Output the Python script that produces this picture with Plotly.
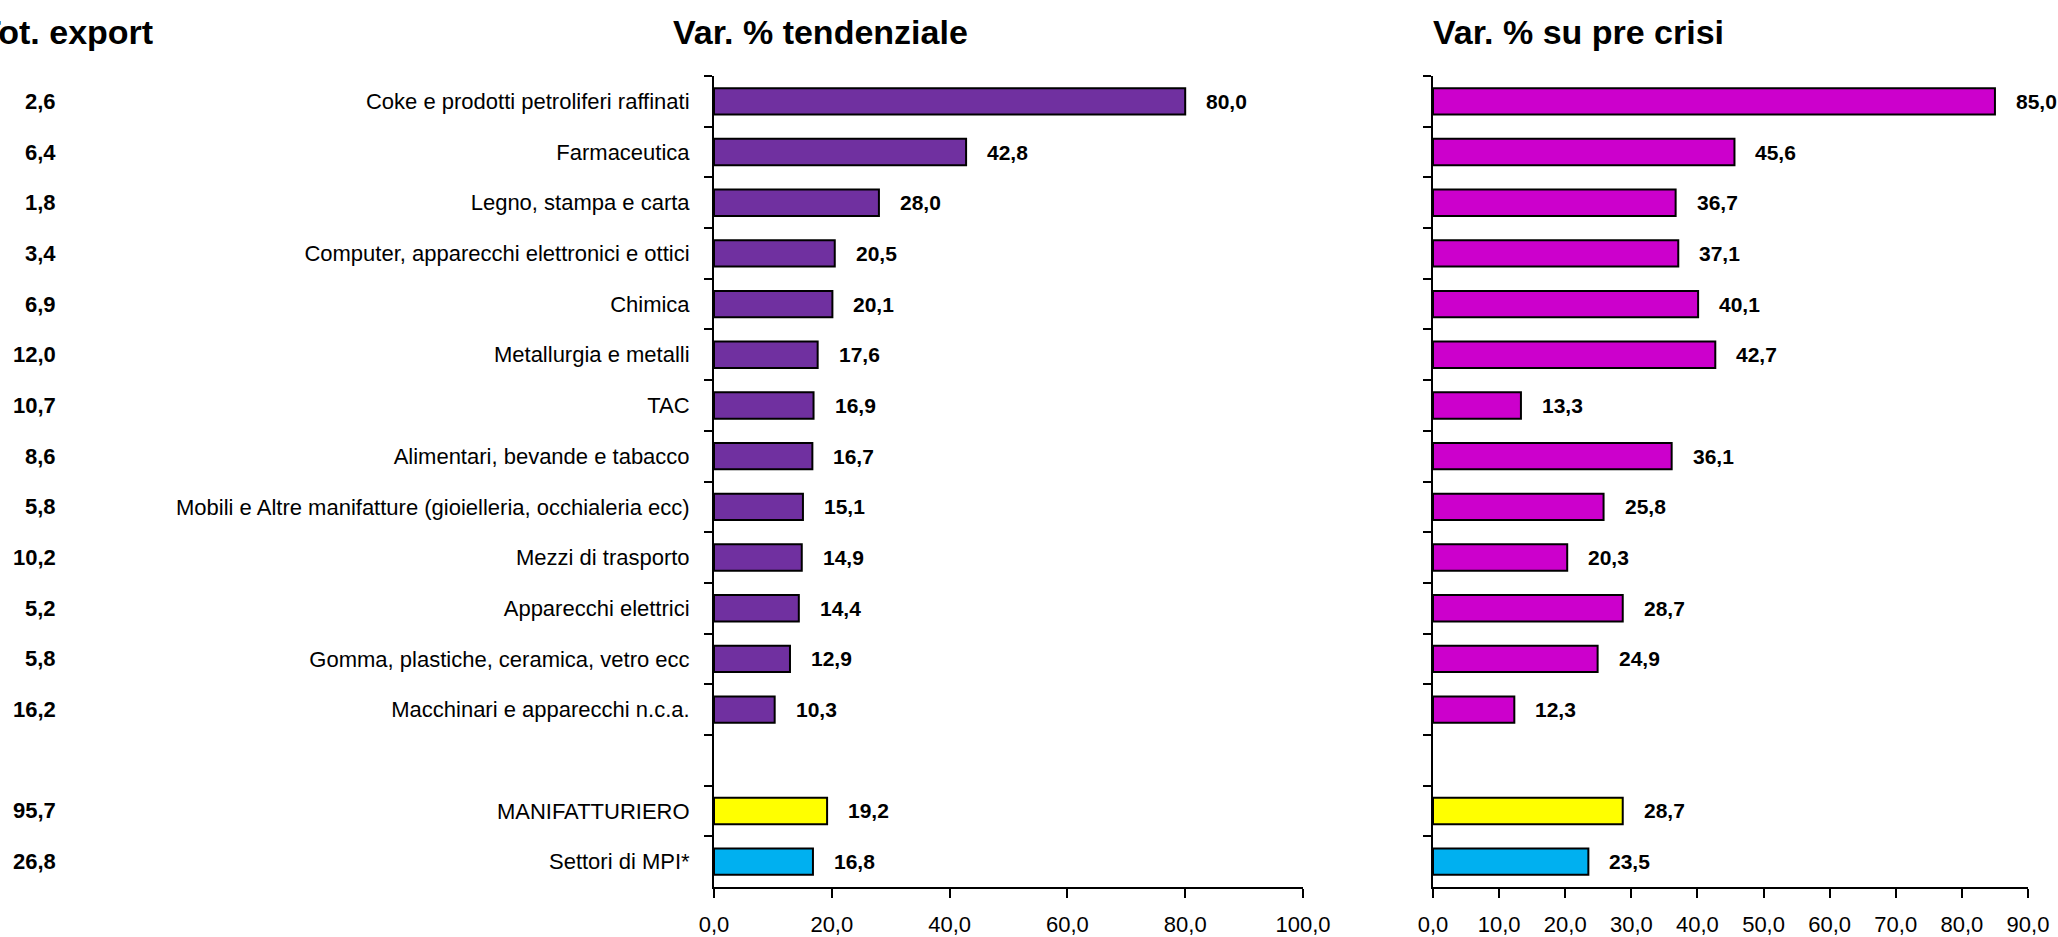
import plotly.graph_objects as go

# Sectors, top to bottom (" " = spacer row)
sectors = [
    "Coke e prodotti petroliferi raffinati",
    "Farmaceutica",
    "Legno, stampa e carta",
    "Computer, apparecchi elettronici e ottici",
    "Chimica",
    "Metallurgia e metalli",
    "TAC",
    "Alimentari, bevande e tabacco",
    "Mobili e Altre manifatture (gioielleria, occhialeria ecc)",
    "Mezzi di trasporto",
    "Apparecchi elettrici",
    "Gomma, plastiche, ceramica, vetro ecc",
    "Macchinari e apparecchi n.c.a.",
    " ",
    "MANIFATTURIERO",
    "Settori di MPI*",
]
quota_export = [2.6, 6.4, 1.8, 3.4, 6.9, 12.0, 10.7, 8.6, 5.8, 10.2, 5.2, 5.8, 16.2, None, 95.7, 26.8]
var_tendenziale = [80.0, 42.8, 28.0, 20.5, 20.1, 17.6, 16.9, 16.7, 15.1, 14.9, 14.4, 12.9, 10.3, None, 19.2, 16.8]
var_pre_crisi = [85.0, 45.6, 36.7, 37.1, 40.1, 42.7, 13.3, 36.1, 25.8, 20.3, 28.7, 24.9, 12.3, None, 28.7, 23.5]

PURPLE = "#7030A0"
MAGENTA = "#CC00CC"
YELLOW = "#FFFF00"
CYAN = "#00B0F0"

FONT = "Liberation Sans, Arial, sans-serif"
W, H = 2058, 937


def it(v):
    return f"{v:.1f}".replace(".", ",")


def bar_colors(base):
    cols = []
    for s in sectors:
        if s == "MANIFATTURIERO":
            cols.append(YELLOW)
        elif s == "Settori di MPI*":
            cols.append(CYAN)
        else:
            cols.append(base)
    return cols


fig = go.Figure()
fig.add_trace(go.Bar(
    y=sectors, x=var_tendenziale, orientation="h", width=0.52,
    marker=dict(color=bar_colors(PURPLE), line=dict(color="black", width=2)),
    xaxis="x", yaxis="y", hoverinfo="skip", showlegend=False,
))
fig.add_trace(go.Bar(
    y=sectors, x=var_pre_crisi, orientation="h", width=0.52,
    marker=dict(color=bar_colors(MAGENTA), line=dict(color="black", width=2)),
    xaxis="x2", yaxis="y2", hoverinfo="skip", showlegend=False,
))

annotations = []
val_font = dict(family=FONT, size=21, color="black", weight="bold")
quota_font = dict(family=FONT, size=22, color="black", weight="bold")
for s, a, b, q in zip(sectors, var_tendenziale, var_pre_crisi, quota_export):
    if a is None:
        continue
    annotations.append(dict(x=a, y=s, xref="x", yref="y", text=it(a), showarrow=False,
                            xanchor="left", xshift=19, font=val_font))
    annotations.append(dict(x=b, y=s, xref="x2", yref="y2", text=it(b), showarrow=False,
                            xanchor="left", xshift=19, font=val_font))
    annotations.append(dict(x=58 / W, y=s, xref="paper", yref="y", text=it(q), showarrow=False,
                            xanchor="right", font=quota_font))

title_font = dict(family=FONT, size=34, color="black", weight="bold")
annotations += [
    dict(x=155 / W, y=1 - 32 / H, xref="paper", yref="paper", text="Tot. export",
         showarrow=False, xanchor="right", yanchor="middle", font=title_font),
    dict(x=820 / W, y=1 - 32 / H, xref="paper", yref="paper", text="Var. % tendenziale",
         showarrow=False, xanchor="center", yanchor="middle", font=title_font),
    dict(x=1431 / W, y=1 - 32 / H, xref="paper", yref="paper", text="Var. % su pre crisi",
         showarrow=False, xanchor="left", yanchor="middle", font=title_font),
]

ydom = [(H - 887) / H, (H - 76) / H]
axis_common = dict(showgrid=False, zeroline=False, showline=True, linecolor="black", linewidth=2,
                   ticks="outside", tickcolor="black", tickwidth=2, automargin=False,
                   tickfont=dict(family=FONT, size=22, color="black"))

fig.update_layout(
    width=W, height=H,
    margin=dict(l=0, r=0, t=0, b=0),
    paper_bgcolor="white", plot_bgcolor="white",
    separators=",.",
    xaxis=dict(domain=[714 / W, 1303 / W], range=[0, 100], dtick=20, tickformat=".1f",
               ticklen=9, ticklabelstandoff=8, anchor="y", **axis_common),
    xaxis2=dict(domain=[1433 / W, 2028 / W], range=[0, 90], dtick=10, tickformat=".1f",
                ticklen=9, ticklabelstandoff=8, anchor="y2", **axis_common),
    yaxis=dict(domain=ydom, type="category", categoryarray=sectors, autorange="reversed",
               tickson="boundaries", ticklen=8, ticklabelstandoff=18, anchor="x", **axis_common),
    yaxis2=dict(domain=ydom, type="category", categoryarray=sectors, autorange="reversed",
                tickson="boundaries", ticklen=8, showticklabels=False, anchor="x2", **axis_common),
    annotations=annotations,
)

fig.write_html("out.html")
